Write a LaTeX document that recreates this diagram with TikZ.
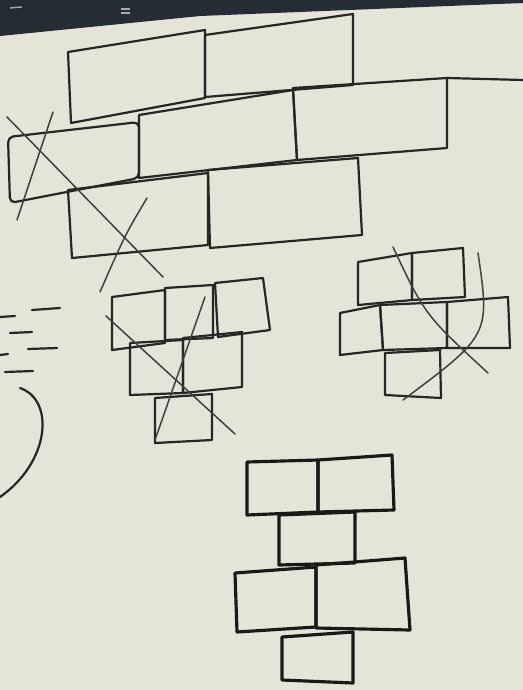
\documentclass[tikz,border=0pt]{standalone}
\usepackage{tikz}
\tikzset{
    ink/.style={draw=black!85, line width=1.25pt, line join=round, line cap=round},
    inkbold/.style={draw=black!90, line width=1.8pt, line join=round, line cap=round},
    strike/.style={draw=black!75, line width=0.85pt, line cap=round},
}
\definecolor{paper}{RGB}{228,228,215}
\definecolor{desk}{RGB}{38,44,54}
% brick: top-left, top-right, bottom-right, bottom-left
\newcommand{\brick}[5][ink]{\draw[#1] #2 -- #3 -- #4 -- #5 -- cycle;}

\begin{document}
\begin{tikzpicture}[x=0.02cm, y=-0.02cm]
\useasboundingbox (0,0) rectangle (523,690);

% paper and desk
\fill[paper] (0,0) rectangle (523,690);
\fill[desk] (0,0) -- (523,0) -- (523,3) -- (200,16) -- (0,36) -- cycle;
\draw[white!60!desk, line width=0.8pt] (10,8) -- (22,7);
\draw[white!60!desk, line width=0.6pt] (121,9) -- (130,9) (121,13) -- (130,13);

% top wall
\brick{(68,52)}{(205,30)}{(205,98)}{(71,123)}
\brick{(205,35)}{(353,14)}{(353,85)}{(205,97)}
\brick[ink, rounded corners=3pt]{(8,137)}{(139,122)}{(139,178)}{(10,203)}
\brick{(139,115)}{(293,90)}{(297,160)}{(139,178)}
\brick{(293,88)}{(447,78)}{(447,148)}{(297,160)}
\draw[ink] (447,78) -- (523,80);
\brick{(68,190)}{(208,173)}{(208,245)}{(72,258)}
\brick{(208,170)}{(358,158)}{(362,235)}{(210,248)}
\draw[strike] (7,117) -- (163,277);
\draw[strike] (53,112) -- (17,220);
\draw[strike] (147,198) .. controls (125,235) .. (100,292);

% dashes and arc on the left
\draw[ink] (32,310) -- (60,308);
\draw[ink] (0,317) -- (15,316);
\draw[ink] (10,333) -- (32,332);
\draw[ink] (28,349) -- (57,348);
\draw[ink] (0,355) -- (8,354);
\draw[ink] (5,372) -- (33,371);
\draw[ink] (20,388) .. controls (55,400) and (50,462) .. (0,497);

% middle left group
\brick{(112,297)}{(165,290)}{(165,343)}{(112,350)}
\brick{(165,288)}{(213,285)}{(213,338)}{(165,340)}
\brick{(215,283)}{(263,278)}{(270,330)}{(218,337)}
\brick{(130,343)}{(183,340)}{(183,393)}{(130,395)}
\brick{(183,338)}{(242,332)}{(242,387)}{(183,393)}
\brick{(155,398)}{(212,394)}{(212,440)}{(155,443)}
\draw[strike] (106,316) -- (235,434);
\draw[strike] (205,297) -- (155,440);

% right group
\brick{(358,262)}{(412,253)}{(412,300)}{(358,305)}
\brick{(412,253)}{(463,248)}{(465,297)}{(412,300)}
\brick{(340,313)}{(380,305)}{(383,350)}{(340,355)}
\brick{(380,305)}{(447,302)}{(447,348)}{(383,350)}
\brick{(447,302)}{(508,297)}{(510,348)}{(447,348)}
\brick{(385,353)}{(440,350)}{(441,398)}{(385,395)}
\draw[strike] (393,247) .. controls (425,315) .. (488,373);
\draw[strike] (478,253) .. controls (490,335) .. (403,400);

% bottom group
\brick[inkbold]{(247,462)}{(318,460)}{(318,512)}{(247,515)}
\brick[inkbold]{(318,460)}{(392,455)}{(394,510)}{(318,512)}
\brick[inkbold]{(279,515)}{(355,512)}{(355,563)}{(279,565)}
\brick[inkbold]{(235,573)}{(316,567)}{(316,627)}{(237,632)}
\brick[inkbold]{(316,565)}{(405,558)}{(410,630)}{(316,628)}
\brick[inkbold]{(282,637)}{(353,632)}{(353,683)}{(282,680)}

\end{tikzpicture}
\end{document}
